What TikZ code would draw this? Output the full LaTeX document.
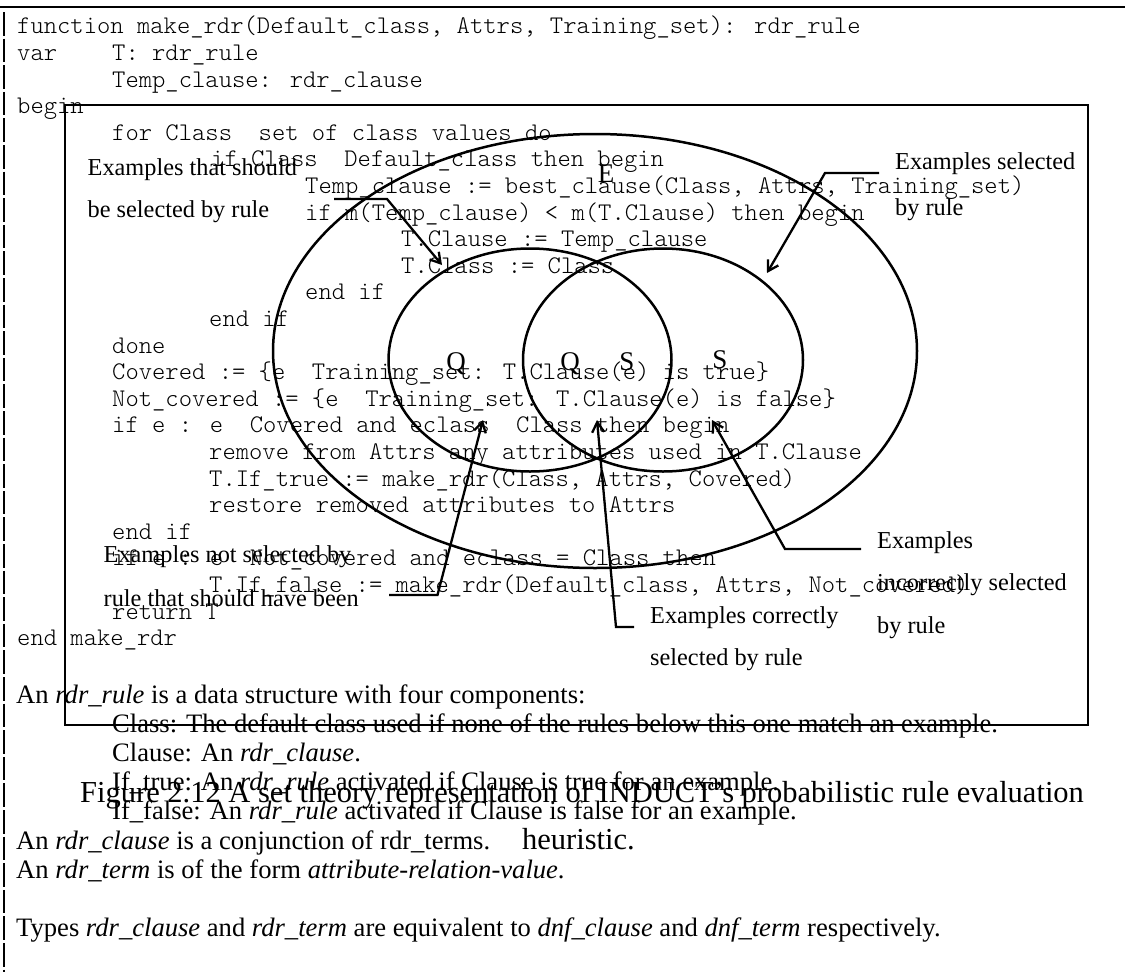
\documentclass[tikz,border=0pt]{standalone}
\usepackage{fontspec}
\setmainfont{Liberation Serif}
\newfontfamily\codefont{Latin Modern Mono Light}
\usetikzlibrary{arrows.meta}

\begin{document}
\begin{tikzpicture}[x=1pt,y=-1pt,
  code/.style={anchor=base west, inner sep=0pt, font=\codefont\fontsize{25.37}{28}\selectfont},
  body/.style={anchor=base west, inner sep=0pt, font=\fontsize{26.6}{30}\selectfont},
  note/.style={anchor=base west, inner sep=0pt, font=\fontsize{24.3}{28}\selectfont},
  captiontext/.style={anchor=base west, inner sep=0pt, font=\fontsize{30.5}{34}\selectfont},
  setlabel/.style={anchor=base, inner sep=0pt, font=\fontsize{27}{30}\selectfont},
  rulebar/.style={line width=2.8pt},
  boxline/.style={line width=2.6pt},
  venn/.style={line width=2.5pt},
  leader/.style={line width=2.3pt, -{Straight Barb[length=10pt,width=12pt]}},
]
\useasboundingbox (0,0) rectangle (1125,972);

% page rules: top line and broken left bar
\draw[rulebar] (0,7) -- (1125,7);
\draw[rulebar, dash pattern=on 23.6pt off 3pt] (4,12) -- (4,972);

% pseudocode listing
\node[code] (c0)  at (17,33.9)   {function make\_rdr(Default\_class, Attrs, Training\_set): rdr\_rule};
\node[code] (c1a) at (17,60.5)   {var};
\node[code] (c1b) at (112,60.5)  {T: rdr\_rule};
\node[code] (c2)  at (112,87.1)  {Temp\_clause: rdr\_clause};
\node[code] (c3)  at (17,113.7)  {begin};
\node[code] (c4)  at (112,140.3) {for Class\ \ set of class values do};
\node[code] (c5)  at (211,166.9) {if Class\ \ Default\_class then begin};
\node[code] (c6)  at (305,193.5) {Temp\_clause := best\_clause(Class, Attrs, Training\_set)};
\node[code] (c7)  at (305,220.1) {if m(Temp\_clause) < m(T.Clause) then begin};
\node[code] (c8)  at (401,246.7) {T.Clause := Temp\_clause};
\node[code] (c9)  at (401,273.3) {T.Class := Class};
\node[code] (c10) at (305,299.9) {end if};
\node[code] (c11) at (209,326.5) {end if};
\node[code] (c12) at (112,353.1) {done};
\node[code] (c13) at (112,379.7) {Covered := \{e\ \ Training\_set: T.Clause(e) is true\}};
\node[code] (c14) at (112,406.3) {Not\_covered := \{e\ \ Training\_set: T.Clause(e) is false\}};
\node[code] (c15) at (112,432.9) {if e : e\ \ Covered and eclass\ \ Class then begin};
\node[code] (c16) at (209,459.5) {remove from Attrs any attributes used in T.Clause};
\node[code] (c17) at (209,486.1) {T.If\_true := make\_rdr(Class, Attrs, Covered)};
\node[code] (c18) at (209,512.7) {restore removed attributes to Attrs};
\node[code] (c19) at (112,539.3) {end if};
\node[code] (c20) at (112,565.9) {if e : e\ \ Not\_covered and eclass = Class then};
\node[code] (c21) at (209,592.5) {T.If\_false := make\_rdr(Default\_class, Attrs, Not\_covered)};
\node[code] (c22) at (112,619.1) {return T};
\node[code] (c23) at (17,645.7)  {end make\_rdr};

% type descriptions
\node[body] (b0) at (16,703)    {An \textit{rdr\_rule} is a data structure with four components:};
\node[body] (b1) at (112,732.2) {Class: The default class used if none of the rules below this one match an example.};
\node[body] (b2) at (112,761.4) {Clause: An \textit{rdr\_clause}.};
\node[body] (b3) at (112,790.6) {If\_true: An \textit{rdr\_rule} activated if Clause is true for an example.};
\node[body] (b4) at (112,819.8) {If\_false: An \textit{rdr\_rule} activated if Clause is false for an example.};
\node[body] (b5) at (16,849)    {An \textit{rdr\_clause} is a conjunction of rdr\_terms.};
\node[body] (b6) at (16,878.2)  {An \textit{rdr\_term} is of the form \textit{attribute-relation-value}.};
\node[body] (b7) at (16,936.6)  {Types \textit{rdr\_clause} and \textit{rdr\_term} are equivalent to \textit{dnf\_clause} and \textit{dnf\_term} respectively.};

% figure frame
\draw[boxline] (65,105) rectangle (1088,725);

% set diagram
\draw[venn] (595,351) ellipse [x radius=322, y radius=217];
\draw[venn] (530,360) ellipse [x radius=141.5, y radius=111.5];
\draw[venn] (663,360) ellipse [x radius=140, y radius=111.5];

\node[setlabel] (lE)  at (606,182) {E};
\node[setlabel] (lQ1) at (456,370) {Q};
\node[setlabel] (lQ2) at (570,370) {Q};
\node[setlabel] (lS1) at (627,370) {S};
\node[setlabel] (lS2) at (720,368) {S};

% annotations
\node[note] (n1a) at (87.5,175) {Examples that should};
\node[note] (n1b) at (87.5,217) {be selected by rule};
\node[note] (n2a) at (895,169)  {Examples selected};
\node[note] (n2b) at (895,215)  {by rule};
\node[note] (n3a) at (103.5,562) {Examples not selected by};
\node[note] (n3b) at (103.5,606) {rule that should have been};
\node[note] (n4a) at (650,623)  {Examples correctly};
\node[note] (n4b) at (650,665)  {selected by rule};
\node[note] (n5a) at (877,548)  {Examples};
\node[note] (n5b) at (877,590)  {incorrectly selected};
\node[note] (n5c) at (877,633)  {by rule};

% leader lines
\coordinate (p1s) at (334,199);   \coordinate (p1b) at (387,199);   \coordinate (p1t) at (442,265);
\coordinate (p2s) at (879,173);   \coordinate (p2b) at (825,173);   \coordinate (p2t) at (767,273);
\coordinate (p3s) at (389,595);   \coordinate (p3b) at (437.5,595); \coordinate (p3t) at (483,420);
\coordinate (p4s) at (634,627);   \coordinate (p4b) at (616,627);   \coordinate (p4t) at (597,420);
\coordinate (p5s) at (861,549);   \coordinate (p5b) at (785,549);   \coordinate (p5t) at (712,420);

\draw[leader] (p1s) -- (p1b) -- (p1t);
\draw[leader] (p2s) -- (p2b) -- (p2t);
\draw[leader] (p3s) -- (p3b) -- (p3t);
\draw[leader] (p4s) -- (p4b) -- (p4t);
\draw[leader] (p5s) -- (p5b) -- (p5t);

% caption
\node[captiontext] (cap1) at (80,802)  {Figure 2.12 A set theory representation of INDUCT's probabilistic rule evaluation};
\node[captiontext] (cap2) at (522,849) {heuristic.};
\end{tikzpicture}
\end{document}
